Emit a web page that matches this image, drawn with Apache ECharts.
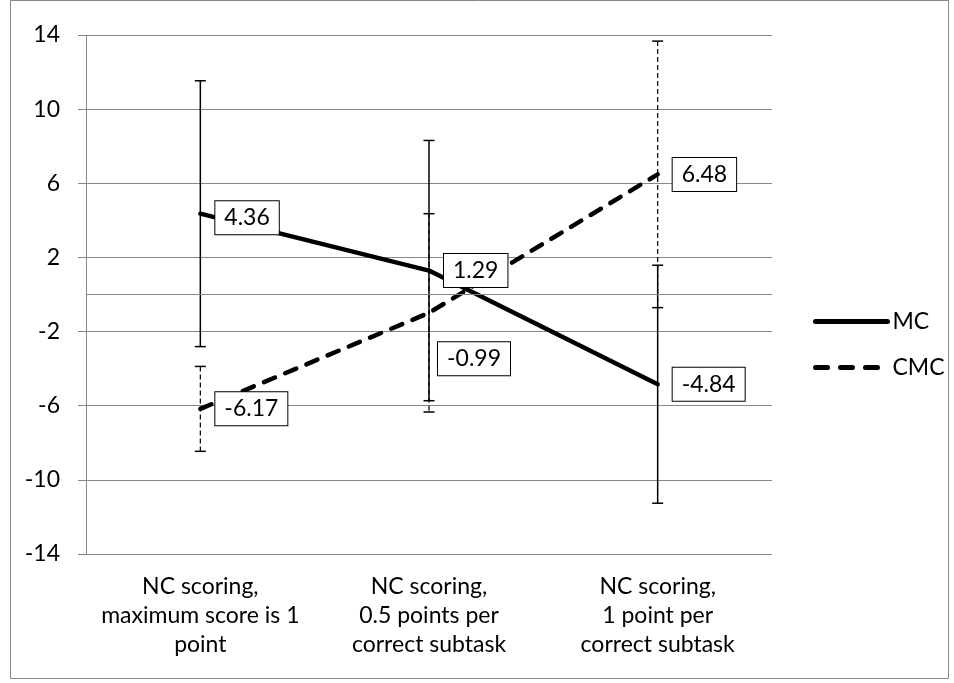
<!DOCTYPE html>
<html><head><meta charset="utf-8">
<script src="https://cdn.jsdelivr.net/npm/echarts@6/dist/echarts.min.js"></script>
<style>html,body{margin:0;padding:0;background:#fff}#c{width:954px;height:683px}</style>
</head><body><div id="c"></div>
<script>
const categories = ['NC scoring,\nmaximum score is 1\npoint', 'NC scoring,\n0.5 points per\ncorrect subtask', 'NC scoring,\n1 point per\ncorrect subtask'];
const seriesNames = ['MC', 'CMC'];
const mcValues = [4.36, 1.29, -4.84];
const cmcValues = [-6.17, -0.99, 6.48];
const mcErrors = [7.17, 7.02, 6.42];
const cmcErrors = [2.29, 5.35, 7.19];
const yMin = -14, yMax = 14, yStep = 4;

const FONT = 'Lato';
const GRAY = '#878787';
const DASH = [12, 11];

function errData(vals, errs) {
  return vals.map((v, i) => [i, v - errs[i], v + errs[i]]);
}
function errRender(dashed) {
  return function (params, api) {
    const x = api.value(0), lo = api.value(1), hi = api.value(2);
    const pHi = api.coord([x, hi]), pLo = api.coord([x, lo]);
    const hw = 5.5;
    const vStyle = {stroke: '#000', lineWidth: dashed ? 1.2 : 1.5, lineDash: dashed ? [5, 3] : null, fill: null};
    const cStyle = {stroke: '#000', lineWidth: 1.5, fill: null};
    return {type: 'group', children: [
      {type: 'line', shape: {x1: pHi[0], y1: pHi[1], x2: pLo[0], y2: pLo[1]}, style: vStyle},
      {type: 'line', shape: {x1: pHi[0] - hw, y1: pHi[1], x2: pHi[0] + hw, y2: pHi[1]}, style: cStyle},
      {type: 'line', shape: {x1: pLo[0] - hw, y1: pLo[1], x2: pLo[0] + hw, y2: pLo[1]}, style: cStyle}
    ]};
  };
}
const labelBase = {
  show: true, position: 'right', distance: 14, color: '#000',
  fontFamily: FONT, fontSize: 23, backgroundColor: '#fff', borderColor: '#000', borderWidth: 1,
  padding: [6, 9, 4, 9], formatter: p => p.value.toFixed(2)
};
function lineData(vals, labelOverrides) {
  return vals.map((v, i) => labelOverrides[i] ? {value: v, label: labelOverrides[i]} : v);
}

const chart = echarts.init(document.getElementById('c'), null, {renderer: 'canvas'});
chart.setOption({
  animation: false,
  backgroundColor: '#fff',
  textStyle: {fontFamily: FONT},
  grid: {left: 86, right: 182, top: 35, bottom: 129, containLabel: false},
  xAxis: {
    type: 'category', data: categories, boundaryGap: true,
    axisLine: {show: false}, axisTick: {show: false},
    axisLabel: {color: '#000', fontFamily: FONT, fontSize: 23, lineHeight: 29, margin: 18, interval: 0}
  },
  yAxis: {
    type: 'value', min: yMin, max: yMax, interval: yStep,
    axisLine: {show: true, lineStyle: {color: GRAY, width: 1}},
    axisTick: {show: true, length: 8, lineStyle: {color: GRAY}},
    splitLine: {show: true, lineStyle: {color: GRAY, width: 1}},
    axisLabel: {color: '#000', fontFamily: FONT, fontSize: 23, margin: 26}
  },
  legend: {
    orient: 'vertical', left: 813, top: 310, padding: 0, itemWidth: 72, itemHeight: 24, itemGap: 23,
    data: [
      {name: seriesNames[0], itemStyle: {opacity: 0}, lineStyle: {width: 5, color: '#000', type: 'solid', cap: 'round'}},
      {name: seriesNames[1], itemStyle: {opacity: 0}, lineStyle: {width: 5, color: '#000', type: [12, 13], cap: 'round'}}
    ],
    textStyle: {color: '#000', fontFamily: FONT, fontSize: 23}
  },
  series: [
    {
      name: 'MCerr', type: 'custom', z: 1, silent: true,
      renderItem: errRender(false), data: errData(mcValues, mcErrors),
      markLine: {silent: true, symbol: 'none', label: {show: false},
        lineStyle: {color: GRAY, width: 1, type: 'solid'}, data: [{yAxis: 0}]}
    },
    {
      name: 'CMCerr', type: 'custom', z: 1, silent: true,
      renderItem: errRender(true), data: errData(cmcValues, cmcErrors)
    },
    {
      name: seriesNames[1], type: 'line', z: 3, symbol: 'circle', symbolSize: 2,
      itemStyle: {color: '#000'},
      lineStyle: {color: '#000', width: 4.5, type: DASH, cap: 'round'},
      label: labelBase,
      data: lineData(cmcValues, {1: {distance: 8, offset: [0, 46]}})
    },
    {
      name: seriesNames[0], type: 'line', z: 4, symbol: 'circle', symbolSize: 2,
      itemStyle: {color: '#000'},
      lineStyle: {color: '#000', width: 4.5, cap: 'round'},
      label: labelBase,
      data: lineData(mcValues, {0: {offset: [0, 4]}})
    }
  ],
  graphic: [{
    type: 'rect', left: 8, top: -2, silent: true,
    shape: {width: 938, height: 678},
    style: {fill: null, stroke: GRAY, lineWidth: 1}
  }]
});
</script></body></html>
